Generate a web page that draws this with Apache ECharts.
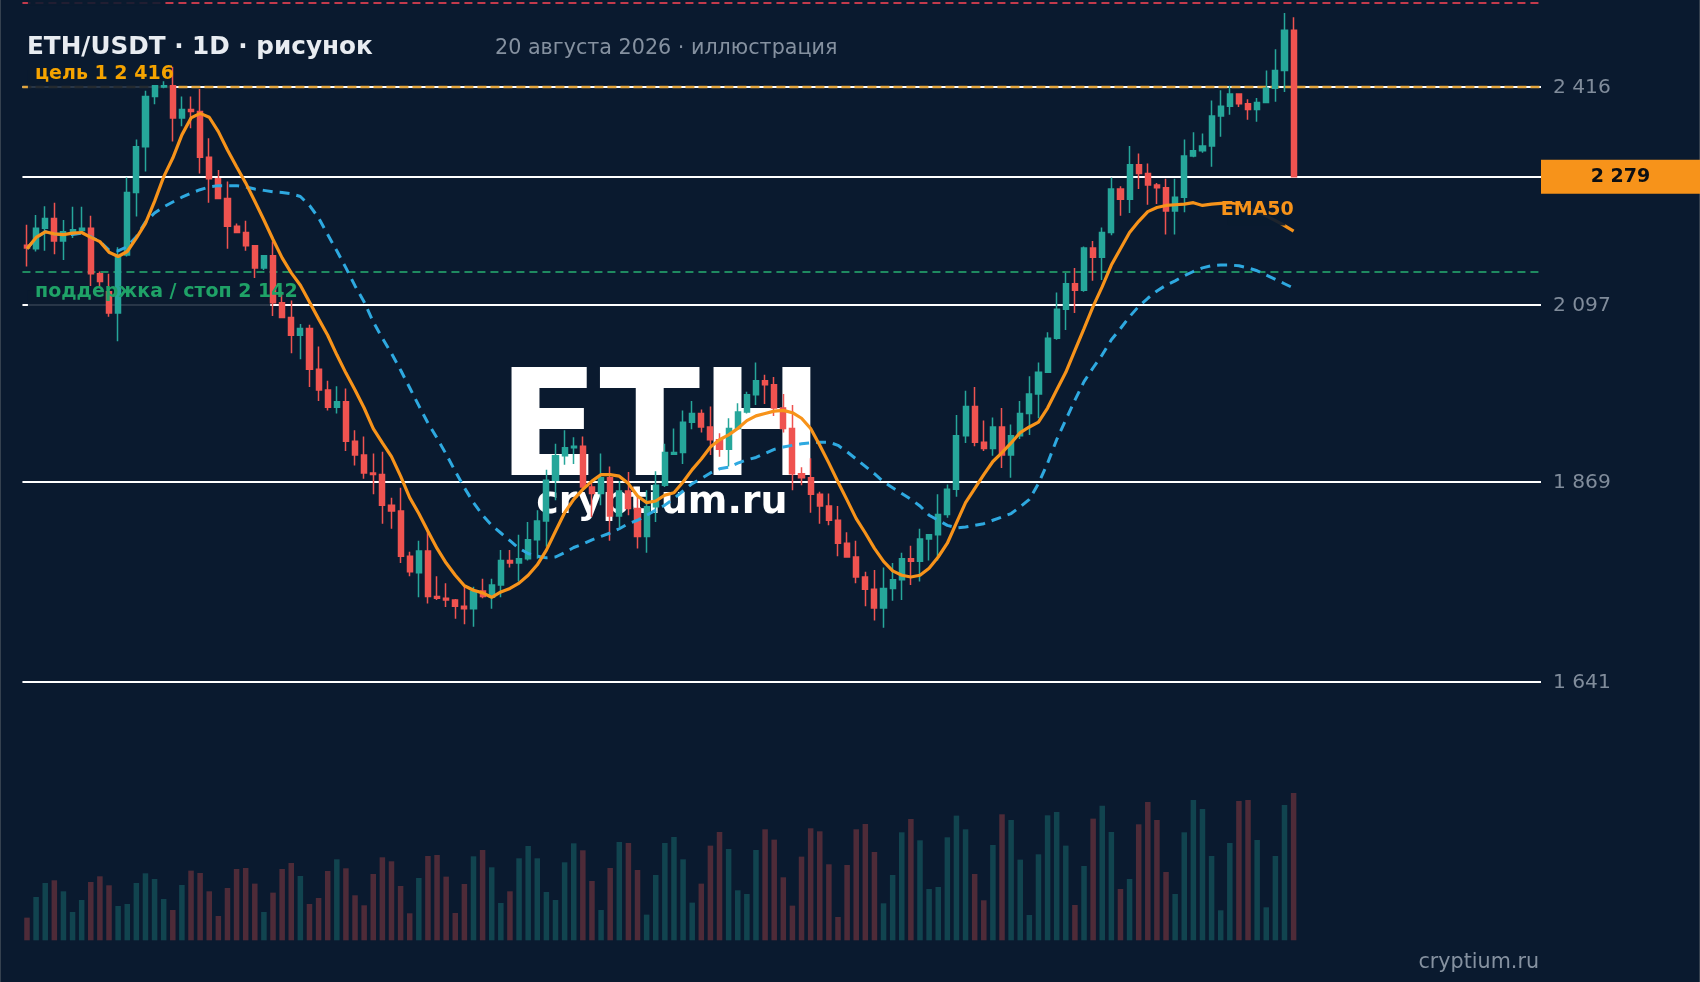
<!DOCTYPE html>
<html>
<head>
<meta charset="utf-8">
<style>
html, body { margin: 0; padding: 0; background: #0a1a2f; }
#chart { width: 1700px; height: 982px; }
</style>
<script src="https://cdn.jsdelivr.net/npm/echarts@6/dist/echarts.min.js"></script>
</head>
<body>
<div id="chart"></div>
<script>
var opens = [
    2180,2175,2204,2218,2186,2196,2201,2204,2140,2115,
    2086,2166,2256,2324,2401,2416,2418,2368,2381,2378,
    2308,2276,2247,2207,2198,2179,2148,2165,2100,2080,
    2056,2065,2011,1984,1962,1969,1919,1902,1880,1878,
    1841,1834,1781,1762,1787,1735,1733,1731,1724,1721,
    1741,1734,1748,1776,1773,1778,1800,1822,1871,1901,
    1911,1913,1863,1855,1874,1828,1858,1837,1804,1839,
    1865,1903,1905,1943,1954,1937,1921,1909,1935,1956,
    1978,1996,1991,1961,1935,1879,1874,1854,1840,1823,
    1796,1780,1757,1743,1722,1744,1754,1778,1775,1801,
    1806,1830,1860,1926,1963,1918,1910,1937,1902,1926,
    1954,1979,2007,2052,2091,2126,2117,2176,2163,2198,
    2261,2246,2297,2284,2267,2263,2229,2249,2310,2318,
    2325,2371,2386,2405,2390,2381,2392,2414,2442,2507
];
var closes = [
    2176,2204,2218,2186,2199,2202,2204,2140,2129,2086,
    2164,2256,2324,2401,2418,2418,2368,2381,2378,2308,
    2276,2247,2207,2198,2179,2148,2165,2100,2080,2056,
    2065,2011,1984,1962,1969,1919,1902,1880,1878,1841,
    1834,1781,1763,1787,1735,1733,1731,1724,1721,1741,
    1735,1748,1776,1773,1778,1800,1822,1871,1901,1911,
    1913,1863,1855,1874,1828,1858,1837,1804,1839,1865,
    1905,1905,1943,1954,1937,1921,1909,1935,1956,1978,
    1996,1991,1961,1935,1879,1874,1854,1840,1823,1796,
    1780,1757,1743,1722,1744,1754,1778,1775,1801,1806,
    1830,1860,1926,1963,1918,1910,1937,1902,1926,1954,
    1979,2007,2052,2091,2126,2117,2176,2163,2198,2261,
    2246,2297,2284,2267,2263,2229,2249,2310,2318,2325,
    2371,2386,2405,2390,2381,2392,2414,2442,2507,2279
];
var lows = [
    2150,2171,2172,2167,2159,2190,2197,2123,2120,2081,
    2048,2164,2221,2287,2389,2414,2332,2355,2352,2284,
    2241,2246,2175,2197,2172,2134,2145,2082,2079,2032,
    2024,1988,1970,1958,1954,1907,1889,1873,1854,1819,
    1813,1773,1758,1734,1727,1731,1723,1710,1704,1701,
    1733,1721,1734,1768,1752,1776,1778,1792,1847,1890,
    1891,1858,1827,1841,1799,1815,1829,1790,1785,1821,
    1863,1902,1891,1934,1930,1902,1900,1888,1935,1954,
    1965,1966,1951,1930,1859,1865,1832,1819,1817,1781,
    1779,1750,1724,1708,1700,1730,1731,1748,1752,1776,
    1776,1826,1851,1917,1913,1907,1901,1886,1874,1922,
    1927,1948,2006,2050,2063,2086,2115,2130,2131,2194,
    2222,2226,2261,2238,2239,2195,2195,2227,2308,2315,
    2294,2339,2373,2385,2365,2362,2392,2393,2408,2279
];
var highs = [
    2209,2223,2236,2241,2216,2235,2235,2222,2143,2140,
    2177,2278,2335,2410,2418,2425,2448,2401,2401,2413,
    2337,2289,2272,2211,2215,2180,2165,2185,2115,2103,
    2071,2070,2041,1996,1989,1986,1933,1925,1904,1906,
    1850,1862,1786,1799,1811,1758,1750,1732,1746,1746,
    1755,1755,1788,1788,1806,1821,1835,1884,1916,1933,
    1924,1925,1871,1904,1888,1870,1881,1851,1859,1882,
    1916,1935,1958,1970,1959,1963,1929,1948,1967,1982,
    2020,2004,2001,1979,1965,1887,1898,1857,1855,1840,
    1809,1799,1763,1765,1768,1773,1785,1793,1813,1806,
    1854,1866,1952,1983,1988,1945,1949,1961,1940,1970,
    2002,2020,2060,2114,2141,2148,2178,2186,2205,2278,
    2265,2325,2314,2299,2270,2276,2276,2335,2346,2344,
    2395,2411,2418,2405,2397,2399,2442,2476,2535,2528
];
var volumes = [
    68,130,172,180,147,85,121,175,192,165,
    103,109,172,201,184,124,91,166,209,202,
    147,73,157,214,217,170,85,143,214,232,
    193,109,127,208,243,216,135,105,199,249,
    237,163,81,187,253,256,191,82,169,252,
    271,219,112,147,246,283,246,145,121,234,
    291,270,178,91,217,295,292,211,77,196,
    292,310,243,113,170,284,325,274,150,139,
    271,333,302,189,104,251,336,327,228,70,
    226,333,349,265,111,196,324,364,300,154,
    160,309,374,333,199,120,286,378,361,242,
    76,258,375,385,284,106,223,365,404,325,
    154,184,348,415,361,205,139,324,421,394,
    253,90,292,418,421,301,99,253,406,442
];
var emaOrange = [
    2175,2191,2199,2196,2195,2197,2198,2191,2185,2170,
    2164,2171,2190,2211,2243,2279,2307,2342,2368,2375,
    2369,2347,2319,2294,2270,2243,2216,2188,2162,2141,
    2124,2101,2078,2056,2030,2006,1984,1961,1935,1917,
    1900,1876,1850,1831,1810,1790,1773,1759,1747,1742,
    1739,1734,1740,1744,1750,1759,1771,1788,1810,1832,
    1848,1860,1870,1878,1878,1876,1867,1852,1844,1846,
    1853,1856,1869,1884,1897,1912,1921,1927,1935,1945,
    1951,1954,1957,1958,1955,1948,1935,1914,1892,1869,
    1847,1825,1808,1790,1775,1764,1759,1757,1759,1767,
    1780,1796,1820,1844,1861,1878,1894,1905,1917,1930,
    1937,1943,1961,1984,2007,2036,2065,2095,2122,2152,
    2175,2198,2214,2228,2234,2237,2238,2239,2241,2237,
    2239,2240,2241,2238,2233,2228,2222,2215,2208,2200
];
var emaBlue = [
    2175,2190,2199,2196,2195,2195,2197,2192,2185,2173,
    2172,2178,2192,2213,2226,2235,2242,2249,2255,2260,
    2264,2266,2266,2266,2264,2261,2259,2257,2256,2254,
    2250,2237,2219,2195,2172,2148,2123,2101,2074,2052,
    2032,2010,1987,1964,1942,1923,1903,1882,1862,1844,
    1829,1817,1808,1799,1790,1784,1781,1779,1780,1785,
    1791,1795,1800,1804,1808,1813,1819,1823,1829,1835,
    1841,1849,1858,1867,1873,1880,1885,1887,1892,1896,
    1899,1904,1909,1912,1914,1916,1917,1918,1918,1914,
    1906,1897,1888,1879,1869,1862,1855,1848,1840,1829,
    1823,1817,1814,1815,1817,1819,1823,1827,1831,1839,
    1848,1867,1892,1921,1946,1971,1995,2013,2030,2050,
    2065,2081,2095,2106,2116,2124,2130,2137,2143,2148,
    2151,2152,2152,2151,2148,2144,2138,2132,2126,2120
];
var solidLevels = [2416, 2097, 1869, 1641];
var lastPrice = 2279;
var targetTop = 2552;
var target1 = 2416;
var supportStop = 2142;

function fmt(v) {
    return String(v).replace(/(\d)(\d{3})$/, '$1 $2');
}
function pairs(arr) {
    return arr.map(function (v, i) { return [i, v]; });
}

var BG = '#0a1a2f';
var TEAL = '#26a69a';
var RED = '#ef5350';
var ORANGE = '#f7931a';
var BLUE = '#2ea9e0';
var FONT = '"DejaVu Sans", sans-serif';
var xMin = -0.5, xMax = 166.15;

var chart = echarts.init(document.getElementById('chart'));

var levelLines = solidLevels.map(function (v) {
    return {
        yAxis: v,
        lineStyle: { color: '#ffffff', width: 2, type: 'solid' },
        label: {
            show: true, position: 'end', distance: 12, offset: [0, 1], formatter: fmt(v),
            color: '#808c9b', fontSize: 20.2, fontFamily: FONT
        }
    };
});
levelLines.push({
    yAxis: lastPrice,
    lineStyle: { color: '#ffffff', width: 2, type: 'solid' },
    label: {
        show: true, position: 'end', distance: 79.5, formatter: fmt(lastPrice),
        color: '#0b0f14', fontSize: 19, fontWeight: 'bold', fontFamily: FONT,
        backgroundColor: ORANGE, width: 159, height: 34, lineHeight: 34, align: 'center'
    }
});
levelLines.push({ yAxis: target1, lineStyle: { color: '#e3a53c', width: 2.4, type: [9, 4] }, label: { show: false } });
levelLines.push({ yAxis: targetTop, lineStyle: { color: '#c23a4c', width: 1.8, type: [8, 5] }, label: { show: false } });
levelLines.push({ yAxis: supportStop, lineStyle: { color: '#1f8a60', width: 1.8, type: [8, 5] }, label: { show: false } });

var option = {
    backgroundColor: BG,
    animation: false,
    graphic: [
        { type: 'rect', z: 0, shape: { x: 0, y: 0, width: 1, height: 982 }, style: { fill: '#35414f' } },
        { type: 'rect', z: 0, shape: { x: 1699, y: 0, width: 1, height: 982 }, style: { fill: '#35414f' } },
        { type: 'text', z: 0, x: 661, y: 437, style: { text: 'ETH', fill: '#ffffff', font: 'bold 148px ' + FONT, textAlign: 'center', textVerticalAlign: 'middle' } },
        { type: 'text', z: 0, x: 662, y: 503.5, style: { text: 'cryptium.ru', fill: '#ffffff', font: 'bold 38px ' + FONT, textAlign: 'center', textVerticalAlign: 'middle' } },
        { type: 'text', z: 20, x: 27, y: 48, style: { text: 'ETH/USDT · 1D · рисунок', fill: '#e8ecf1', font: 'bold 24.7px ' + FONT, textVerticalAlign: 'middle' } },
        { type: 'text', z: 20, x: 495, y: 49, style: { text: '20 августа 2026 · иллюстрация', fill: '#8591a0', font: '20.7px ' + FONT, textVerticalAlign: 'middle' } },
        { type: 'text', z: 20, x: 1539, y: 963, style: { text: 'cryptium.ru', fill: '#8591a0', font: '20.7px ' + FONT, textAlign: 'right', textVerticalAlign: 'middle' } }
    ],
    grid: [
        { left: 22.44, width: 1518.56, top: 0, height: 700 },
        { left: 22.44, width: 1518.56, top: 760.3, height: 180 }
    ],
    xAxis: [
        { type: 'value', gridIndex: 0, min: xMin, max: xMax, show: false, splitLine: { show: false } },
        { type: 'value', gridIndex: 1, min: xMin, max: xMax, show: false, splitLine: { show: false } }
    ],
    yAxis: [
        { type: 'log', gridIndex: 0, min: 1622, max: 2556.6, show: false, splitLine: { show: false } },
        { type: 'value', gridIndex: 1, min: 0, max: 540, show: false, splitLine: { show: false } }
    ],
    series: [
        {
            name: 'levels',
            type: 'line',
            xAxisIndex: 0, yAxisIndex: 0,
            data: [],
            z: 1,
            silent: true,
            markLine: { z: 1, silent: true, symbol: 'none', data: levelLines },
            markArea: {
                z: 2, silent: true,
                itemStyle: { color: 'rgba(10,26,47,0.88)' },
                data: [
                    [{ coord: [0.1, 2556.6] }, { coord: [14.9, 2547] }],
                    [{ coord: [0.1, 2443] }, { coord: [15.9, 2413] }],
                    [{ coord: [0.1, 2117] }, { coord: [26.7, 2094] }]
                ]
            }
        },
        {
            name: 'volume',
            type: 'bar',
            xAxisIndex: 1, yAxisIndex: 1,
            barWidth: 5.5,
            z: 2,
            data: pairs(volumes).map(function (p, i) {
                return {
                    value: p,
                    itemStyle: { color: closes[i] >= opens[i] ? 'rgba(38,166,154,0.3)' : 'rgba(239,83,80,0.3)' }
                };
            })
        },
        {
            name: 'ETH/USDT',
            type: 'candlestick',
            xAxisIndex: 0, yAxisIndex: 0,
            z: 3,
            barWidth: 5.6,
            encode: { x: 0, y: [1, 2, 3, 4] },
            itemStyle: { color: TEAL, color0: RED, borderColor: TEAL, borderColor0: RED, borderWidth: 1.5 },
            data: opens.map(function (o, i) { return [i, o, closes[i], lows[i], highs[i]]; })
        },
        {
            name: 'EMA slow',
            type: 'line',
            xAxisIndex: 0, yAxisIndex: 0,
            z: 4,
            showSymbol: false,
            lineStyle: { color: BLUE, width: 3, type: [10, 7] },
            data: pairs(emaBlue)
        },
        {
            name: 'EMA50',
            type: 'line',
            xAxisIndex: 0, yAxisIndex: 0,
            z: 5,
            showSymbol: false,
            lineStyle: { color: ORANGE, width: 3.2 },
            data: pairs(emaOrange),
            markArea: {
                z: 6, silent: true,
                itemStyle: { color: 'rgba(10,26,47,0.92)' },
                data: [[{ coord: [131.8, 2238] }, { coord: [138.1, 2208] }]]
            },
            markPoint: {
                z: 10, silent: true, symbol: 'circle', symbolSize: 0,
                data: [
                    {
                        coord: [0.88, 2436], value: 0,
                        label: { show: true, position: 'right', distance: 0, formatter: 'цель 1 2 416', color: '#f5a300', fontSize: 19, fontWeight: 'bold', fontFamily: FONT }
                    },
                    {
                        coord: [0.88, 2115], value: 0,
                        label: { show: true, position: 'right', distance: 0, formatter: 'поддержка / стоп 2 142', color: '#1fa267', fontSize: 19, fontWeight: 'bold', fontFamily: FONT }
                    },
                    {
                        coord: [131.0, 2231], value: 0,
                        label: { show: true, position: 'right', distance: 0, formatter: 'EMA50', color: ORANGE, fontSize: 19, fontWeight: 'bold', fontFamily: FONT }
                    }
                ]
            }
        }
    ]
};
chart.setOption(option);

window.addEventListener('resize', function () {
    chart.resize();
});
</script>
</body>
</html>
